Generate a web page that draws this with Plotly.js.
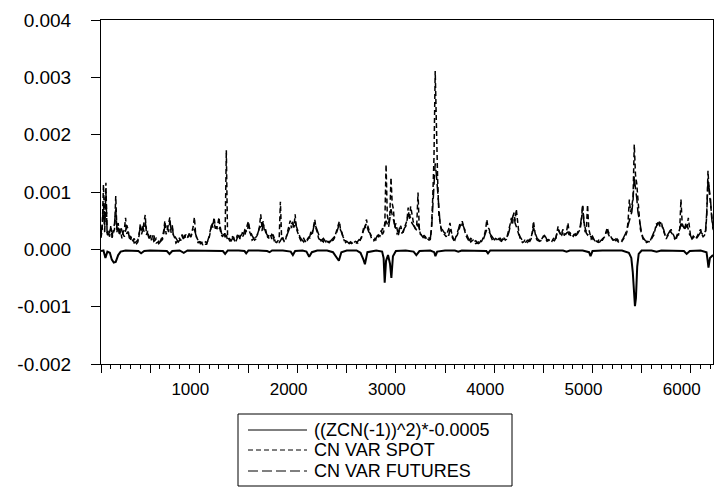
<!DOCTYPE html>
<html>
<head>
<meta charset="utf-8">
<script src="https://cdn.plot.ly/plotly-3.0.1.min.js"></script>
<style>html,body{margin:0;padding:0;background:#fff;}#chart{width:717px;height:487px;}</style>
</head>
<body>
<div id="chart"></div>
<script>
// Observation numbers for the two variance series (readings every 25 obs)
const obs = [
  0,25,50,75,100,125,150,175,200,225,
  250,275,300,325,350,375,400,425,450,475,
  500,525,550,575,600,625,650,675,700,725,
  750,775,800,825,850,875,900,925,950,975,
  1000,1025,1050,1075,1100,1125,1150,1175,1200,1225,
  1250,1275,1300,1325,1350,1375,1400,1425,1450,1475,
  1500,1525,1550,1575,1600,1625,1650,1675,1700,1725,
  1750,1775,1800,1825,1850,1875,1900,1925,1950,1975,
  2000,2025,2050,2075,2100,2125,2150,2175,2200,2225,
  2250,2275,2300,2325,2350,2375,2400,2425,2450,2475,
  2500,2525,2550,2575,2600,2625,2650,2675,2700,2725,
  2750,2775,2800,2825,2850,2875,2900,2925,2950,2975,
  3000,3025,3050,3075,3100,3125,3150,3175,3200,3225,
  3250,3275,3300,3325,3350,3375,3400,3425,3450,3475,
  3500,3525,3550,3575,3600,3625,3650,3675,3700,3725,
  3750,3775,3800,3825,3850,3875,3900,3925,3950,3975,
  4000,4025,4050,4075,4100,4125,4150,4175,4200,4225,
  4250,4275,4300,4325,4350,4375,4400,4425,4450,4475,
  4500,4525,4550,4575,4600,4625,4650,4675,4700,4725,
  4750,4775,4800,4825,4850,4875,4900,4925,4950,4975,
  5000,5025,5050,5075,5100,5125,5150,5175,5200,5225,
  5250,5275,5300,5325,5350,5375,5400,5425,5450,5475,
  5500,5525,5550,5575,5600,5625,5650,5675,5700,5725,
  5750,5775,5800,5825,5850,5875,5900,5925,5950,5975,
  6000,6025,6050,6075,6100,6125,6150,6175,6200,6225
];

// CN VAR SPOT at obs
const varSpot = [
  2.0e-4,11.3e-4,11.6e-4,3.2e-4,4.2e-4,2.8e-4,9.3e-4,4.6e-4,3.3e-4,3.0e-4,
  5.5e-4,3.1e-4,2.2e-4,1.6e-4,1.4e-4,1.3e-4,4.5e-4,3.4e-4,6.0e-4,3.2e-4,
  2.6e-4,1.9e-4,1.9e-4,1.2e-4,1.0e-4,2.1e-4,5.0e-4,3.3e-4,5.6e-4,3.8e-4,
  2.0e-4,1.3e-4,1.9e-4,2.6e-4,2.1e-4,2.0e-4,2.9e-4,3.1e-4,5.6e-4,2.0e-4,
  1.2e-4,1.0e-4,0.9e-4,1.1e-4,2.0e-4,4.6e-4,5.6e-4,3.6e-4,5.6e-4,2.5e-4,
  3.0e-4,17.3e-4,1.7e-4,1.8e-4,2.1e-4,1.5e-4,2.6e-4,2.2e-4,2.8e-4,3.6e-4,
  4.9e-4,2.5e-4,1.8e-4,2.1e-4,3.0e-4,6.1e-4,4.9e-4,3.5e-4,2.0e-4,2.5e-4,
  2.6e-4,1.3e-4,1.5e-4,8.3e-4,2.0e-4,1.5e-4,3.5e-4,5.0e-4,4.5e-4,6.1e-4,
  3.0e-4,1.8e-4,1.7e-4,1.5e-4,1.8e-4,2.0e-4,3.0e-4,5.2e-4,3.0e-4,1.7e-4,
  1.5e-4,1.8e-4,1.5e-4,1.4e-4,1.5e-4,2.0e-4,3.5e-4,4.9e-4,2.6e-4,1.5e-4,
  1.2e-4,1.1e-4,1.0e-4,1.2e-4,1.3e-4,1.5e-4,2.0e-4,4.0e-4,5.2e-4,3.5e-4,
  2.0e-4,1.5e-4,1.7e-4,2.5e-4,3.0e-4,3.5e-4,14.8e-4,4.6e-4,12.5e-4,7.0e-4,
  4.5e-4,2.5e-4,4.1e-4,3.0e-4,4.5e-4,7.3e-4,7.5e-4,5.0e-4,3.5e-4,9.9e-4,
  2.5e-4,2.3e-4,2.0e-4,1.8e-4,1.7e-4,9.0e-4,31.1e-4,12.0e-4,4.0e-4,3.0e-4,
  2.5e-4,3.0e-4,4.6e-4,2.0e-4,1.8e-4,2.5e-4,4.0e-4,4.9e-4,3.5e-4,2.0e-4,
  1.8e-4,1.5e-4,1.2e-4,1.1e-4,1.3e-4,1.5e-4,2.5e-4,5.2e-4,3.5e-4,2.0e-4,
  1.5e-4,1.8e-4,1.7e-4,1.6e-4,2.0e-4,1.8e-4,3.5e-4,5.5e-4,6.4e-4,7.0e-4,
  3.0e-4,1.5e-4,1.3e-4,1.5e-4,1.4e-4,2.0e-4,4.9e-4,2.0e-4,1.5e-4,1.7e-4,
  2.3e-4,1.8e-4,1.5e-4,1.6e-4,1.8e-4,1.7e-4,4.0e-4,2.5e-4,3.5e-4,2.8e-4,
  4.6e-4,2.5e-4,2.3e-4,2.5e-4,2.8e-4,3.5e-4,7.8e-4,3.0e-4,7.8e-4,2.3e-4,
  2.0e-4,1.6e-4,1.3e-4,1.5e-4,1.8e-4,2.2e-4,3.8e-4,2.5e-4,1.8e-4,1.5e-4,
  1.6e-4,1.5e-4,1.4e-4,2.0e-4,3.0e-4,8.7e-4,7.5e-4,18.3e-4,11.5e-4,6.0e-4,
  2.5e-4,1.5e-4,1.2e-4,1.3e-4,1.8e-4,2.5e-4,4.5e-4,5.0e-4,4.9e-4,3.0e-4,
  1.8e-4,2.5e-4,3.5e-4,2.5e-4,1.7e-4,2.8e-4,8.7e-4,4.0e-4,4.6e-4,5.5e-4,
  2.0e-4,2.3e-4,1.8e-4,2.6e-4,3.5e-4,2.2e-4,2.8e-4,13.7e-4,8.0e-4,4.0e-4
];
// CN VAR SPOT halfway between consecutive obs
const varSpotMid = [
  3.5e-4,4.0e-4,2.4e-4,2.2e-4,2.0e-4,3.5e-4,3.0e-4,2.4e-4,1.9e-4,3.4e-4,
  2.7e-4,2.4e-4,1.3e-4,1.9e-4,1.0e-4,2.4e-4,2.6e-4,4.4e-4,2.5e-4,2.1e-4,
  1.7e-4,2.4e-4,1.1e-4,1.4e-4,1.5e-4,3.2e-4,2.6e-4,4.4e-4,2.9e-4,2.5e-4,
  1.1e-4,2.0e-4,1.5e-4,1.8e-4,2.6e-4,2.2e-4,2.2e-4,3.9e-4,2.8e-4,1.5e-4,
  1.3e-4,0.8e-4,1.3e-4,1.6e-4,3.0e-4,3.8e-4,4.0e-4,4.3e-4,3.4e-4,2.2e-4,
  2.4e-4,2.2e-4,1.4e-4,2.2e-4,1.3e-4,2.0e-4,1.8e-4,2.9e-4,2.4e-4,4.2e-4,
  3.0e-4,1.6e-4,2.4e-4,2.4e-4,4.0e-4,3.8e-4,3.1e-4,2.4e-4,2.7e-4,1.8e-4,
  1.7e-4,1.2e-4,1.8e-4,1.9e-4,1.4e-4,2.3e-4,3.9e-4,3.7e-4,3.8e-4,3.6e-4,
  2.1e-4,1.4e-4,1.9e-4,1.2e-4,2.1e-4,2.5e-4,4.0e-4,3.6e-4,2.0e-4,1.3e-4,
  1.3e-4,1.6e-4,1.2e-4,1.7e-4,1.6e-4,2.8e-4,4.3e-4,3.4e-4,1.8e-4,1.5e-4,
  0.9e-4,1.3e-4,0.9e-4,1.4e-4,1.1e-4,1.8e-4,3.0e-4,3.7e-4,4.2e-4,2.4e-4,
  1.6e-4,1.9e-4,2.1e-4,2.3e-4,3.6e-4,4.5e-4,6.0e-4,5.5e-4,8.0e-4,3.8e-4,
  3.2e-4,3.4e-4,2.9e-4,3.8e-4,5.0e-4,5.2e-4,5.8e-4,4.0e-4,4.3e-4,3.8e-4,
  2.8e-4,2.0e-4,2.2e-4,1.6e-4,4.0e-4,16.0e-4,18.0e-4,6.0e-4,3.2e-4,2.7e-4,
  2.2e-4,3.6e-4,2.8e-4,1.6e-4,2.2e-4,3.2e-4,4.5e-4,3.9e-4,2.4e-4,1.6e-4,
  1.3e-4,1.6e-4,1.0e-4,1.3e-4,1.1e-4,2.0e-4,3.4e-4,3.8e-4,2.4e-4,1.4e-4,
  1.9e-4,1.4e-4,1.9e-4,1.5e-4,1.6e-4,2.6e-4,4.4e-4,4.5e-4,5.0e-4,4.2e-4,
  2.0e-4,1.2e-4,1.6e-4,1.2e-4,1.7e-4,3.0e-4,3.2e-4,1.6e-4,1.8e-4,1.9e-4,
  2.0e-4,1.4e-4,1.8e-4,1.4e-4,2.0e-4,2.6e-4,3.1e-4,2.9e-4,2.4e-4,3.2e-4,
  3.0e-4,2.1e-4,2.6e-4,2.2e-4,3.2e-4,5.0e-4,5.0e-4,3.5e-4,3.5e-4,1.8e-4,
  1.5e-4,1.4e-4,1.6e-4,1.4e-4,2.0e-4,3.0e-4,3.0e-4,2.0e-4,1.5e-4,1.8e-4,
  1.3e-4,1.6e-4,1.7e-4,2.4e-4,5.0e-4,6.5e-4,9.0e-4,13.0e-4,8.0e-4,3.5e-4,
  1.9e-4,1.3e-4,1.4e-4,1.6e-4,2.2e-4,3.5e-4,4.2e-4,4.4e-4,3.8e-4,2.3e-4,
  2.3e-4,2.9e-4,2.8e-4,1.9e-4,2.4e-4,3.6e-4,4.5e-4,3.4e-4,3.9e-4,3.0e-4,
  1.9e-4,2.0e-4,2.2e-4,3.0e-4,2.6e-4,2.4e-4,6.0e-4,10.0e-4,5.0e-4,3.0e-4
];

// CN VAR FUTURES at obs
const varFutures = [
  2.6e-4,8.0e-4,10.0e-4,2.5e-4,3.6e-4,3.4e-4,7.0e-4,3.8e-4,4.0e-4,2.6e-4,
  3.6e-4,3.5e-4,1.8e-4,1.9e-4,1.2e-4,1.6e-4,3.8e-4,4.0e-4,4.6e-4,2.7e-4,
  2.2e-4,2.3e-4,1.6e-4,1.5e-4,1.2e-4,1.7e-4,4.2e-4,3.8e-4,4.8e-4,4.2e-4,
  2.3e-4,1.6e-4,1.6e-4,2.3e-4,2.5e-4,1.8e-4,2.6e-4,2.7e-4,3.5e-4,2.4e-4,
  1.4e-4,1.2e-4,1.1e-4,0.9e-4,2.3e-4,4.0e-4,4.8e-4,4.0e-4,3.5e-4,2.9e-4,
  2.6e-4,2.5e-4,2.0e-4,1.5e-4,1.8e-4,1.8e-4,2.3e-4,2.6e-4,2.5e-4,3.2e-4,
  4.4e-4,2.9e-4,2.1e-4,1.8e-4,3.3e-4,4.0e-4,4.5e-4,3.0e-4,2.3e-4,2.2e-4,
  2.3e-4,1.6e-4,1.3e-4,1.5e-4,1.8e-4,1.7e-4,3.0e-4,4.0e-4,4.8e-4,4.9e-4,
  3.4e-4,2.1e-4,1.5e-4,1.7e-4,1.6e-4,2.3e-4,2.7e-4,4.6e-4,3.3e-4,2.0e-4,
  1.7e-4,1.6e-4,1.7e-4,1.2e-4,1.7e-4,2.2e-4,3.1e-4,4.4e-4,3.0e-4,1.8e-4,
  1.4e-4,1.0e-4,1.2e-4,1.0e-4,1.1e-4,1.7e-4,2.4e-4,3.5e-4,4.5e-4,3.0e-4,
  2.3e-4,1.7e-4,2.0e-4,2.2e-4,3.3e-4,3.0e-4,5.0e-4,3.8e-4,7.0e-4,5.0e-4,
  3.5e-4,2.9e-4,3.5e-4,3.4e-4,4.0e-4,6.0e-4,5.5e-4,4.3e-4,3.8e-4,4.5e-4,
  2.8e-4,2.1e-4,2.2e-4,1.6e-4,1.9e-4,7.0e-4,15.0e-4,10.0e-4,4.4e-4,3.4e-4,
  2.8e-4,2.6e-4,3.5e-4,2.3e-4,1.6e-4,2.8e-4,4.4e-4,4.5e-4,3.2e-4,2.3e-4,
  1.6e-4,1.7e-4,1.4e-4,1.2e-4,1.1e-4,1.8e-4,2.2e-4,3.5e-4,3.0e-4,2.3e-4,
  1.7e-4,1.5e-4,1.9e-4,1.4e-4,1.7e-4,2.1e-4,3.0e-4,5.0e-4,6.2e-4,4.0e-4,
  2.6e-4,1.8e-4,1.4e-4,1.3e-4,1.6e-4,1.8e-4,3.8e-4,2.3e-4,1.7e-4,1.5e-4,
  2.0e-4,2.1e-4,1.7e-4,1.4e-4,1.6e-4,1.9e-4,3.5e-4,2.8e-4,3.0e-4,2.5e-4,
  3.0e-4,2.8e-4,2.1e-4,2.7e-4,3.1e-4,4.0e-4,7.5e-4,3.4e-4,2.5e-4,2.6e-4,
  2.3e-4,1.4e-4,1.5e-4,1.3e-4,1.6e-4,2.5e-4,3.3e-4,2.2e-4,2.0e-4,1.7e-4,
  1.8e-4,1.3e-4,1.6e-4,2.3e-4,3.5e-4,5.0e-4,6.5e-4,12.8e-4,9.0e-4,5.0e-4,
  2.9e-4,1.7e-4,1.4e-4,1.1e-4,2.0e-4,2.8e-4,4.0e-4,4.6e-4,4.4e-4,3.4e-4,
  2.1e-4,2.8e-4,3.0e-4,2.2e-4,2.0e-4,2.5e-4,4.5e-4,4.4e-4,3.8e-4,3.5e-4,
  2.3e-4,2.0e-4,2.1e-4,2.3e-4,3.0e-4,2.5e-4,3.2e-4,12.0e-4,9.0e-4,3.6e-4
];
// CN VAR FUTURES halfway between consecutive obs
const varFuturesMid = [
  4.4e-4,3.0e-4,2.8e-4,3.2e-4,2.3e-4,4.5e-4,3.2e-4,2.9e-4,3.1e-4,2.2e-4,
  4.2e-4,2.0e-4,2.3e-4,1.1e-4,1.5e-4,2.8e-4,3.0e-4,3.1e-4,3.6e-4,1.9e-4,
  2.8e-4,1.4e-4,1.9e-4,1.0e-4,1.8e-4,2.6e-4,4.6e-4,3.0e-4,3.6e-4,2.1e-4,
  1.8e-4,1.3e-4,2.2e-4,1.8e-4,1.9e-4,2.4e-4,2.1e-4,3.2e-4,2.7e-4,1.1e-4,
  0.9e-4,1.4e-4,0.9e-4,1.5e-4,3.4e-4,4.5e-4,3.6e-4,3.2e-4,3.9e-4,2.2e-4,
  2.2e-4,1.6e-4,1.8e-4,1.9e-4,1.4e-4,2.5e-4,2.0e-4,2.1e-4,3.4e-4,3.0e-4,
  3.4e-4,2.4e-4,1.6e-4,2.6e-4,3.7e-4,3.2e-4,3.6e-4,2.6e-4,1.8e-4,2.6e-4,
  1.5e-4,1.6e-4,1.2e-4,1.9e-4,1.4e-4,2.4e-4,3.4e-4,4.3e-4,3.9e-4,4.0e-4,
  2.6e-4,1.8e-4,1.3e-4,1.9e-4,1.9e-4,3.2e-4,3.8e-4,3.9e-4,2.4e-4,1.5e-4,
  1.9e-4,1.3e-4,1.4e-4,1.5e-4,2.0e-4,2.4e-4,3.8e-4,3.3e-4,2.2e-4,1.2e-4,
  1.2e-4,1.1e-4,0.9e-4,1.2e-4,1.4e-4,1.6e-4,3.2e-4,4.1e-4,3.6e-4,2.8e-4,
  1.8e-4,1.6e-4,2.4e-4,2.8e-4,2.6e-4,4.2e-4,4.4e-4,5.2e-4,6.0e-4,4.0e-4,
  2.7e-4,3.8e-4,2.8e-4,3.7e-4,4.8e-4,5.8e-4,4.6e-4,4.1e-4,3.3e-4,3.5e-4,
  2.4e-4,2.4e-4,1.7e-4,2.0e-4,3.5e-4,11.0e-4,13.0e-4,6.5e-4,3.6e-4,3.0e-4,
  3.0e-4,2.4e-4,2.7e-4,1.8e-4,2.3e-4,3.6e-4,3.8e-4,4.0e-4,2.7e-4,1.9e-4,
  1.9e-4,1.3e-4,1.5e-4,1.0e-4,1.4e-4,1.6e-4,3.0e-4,3.2e-4,2.6e-4,1.8e-4,
  1.4e-4,1.8e-4,1.5e-4,1.8e-4,2.0e-4,2.4e-4,4.0e-4,5.6e-4,4.6e-4,3.0e-4,
  2.2e-4,1.5e-4,1.2e-4,1.6e-4,1.4e-4,2.6e-4,3.0e-4,1.9e-4,1.4e-4,1.8e-4,
  2.4e-4,1.6e-4,1.5e-4,1.7e-4,1.5e-4,2.7e-4,3.0e-4,2.5e-4,2.8e-4,2.9e-4,
  2.5e-4,2.4e-4,2.5e-4,2.5e-4,3.6e-4,5.5e-4,4.8e-4,2.8e-4,2.8e-4,2.0e-4,
  1.7e-4,1.7e-4,1.2e-4,1.6e-4,1.9e-4,2.8e-4,2.6e-4,2.3e-4,1.6e-4,1.5e-4,
  1.5e-4,1.5e-4,1.9e-4,2.8e-4,4.2e-4,5.8e-4,8.5e-4,10.5e-4,6.5e-4,3.8e-4,
  2.1e-4,1.5e-4,1.2e-4,1.5e-4,2.4e-4,3.2e-4,4.6e-4,4.0e-4,3.9e-4,2.5e-4,
  2.5e-4,3.2e-4,2.5e-4,1.8e-4,2.6e-4,3.4e-4,4.0e-4,3.6e-4,4.1e-4,2.6e-4,
  1.8e-4,2.4e-4,2.0e-4,2.7e-4,2.8e-4,2.9e-4,6.5e-4,10.5e-4,5.5e-4,3.2e-4
];

// ((ZCN(-1))^2)*-0.0005
const zcnObs = [
  0,25,45,65,90,110,130,150,175,200,250,300,380,408,440,500,600,670,697,725,
  800,842,880,1000,1100,1200,1240,1263,1290,1400,1460,1477,1500,1600,1690,1715,1740,1850,1930,1952,
  1975,2050,2090,2118,2145,2200,2300,2360,2400,2420,2445,2500,2600,2640,2670,2685,2710,2800,2860,2875,
  2886,2900,2920,2940,2954,2970,3000,3100,3180,3208,3240,3350,3390,3402,3420,3500,3600,3635,3670,3800,
  3920,3937,3960,4100,4300,4500,4700,4736,4770,4900,4965,4980,5000,5100,5300,5370,5395,5410,5422,5432,
  5442,5455,5470,5500,5600,5652,5700,5800,5930,5958,5990,6100,6160,6172,6180,6195,6210,6226
];
const zcnSq = [
  -0.3e-4,-0.2e-4,-1.5e-4,-0.4e-4,-0.6e-4,-1.8e-4,-2.3e-4,-2.2e-4,-1.0e-4,-0.4e-4,-0.2e-4,-0.2e-4,-0.3e-4,-0.7e-4,-0.3e-4,-0.2e-4,-0.2e-4,-0.3e-4,-0.8e-4,-0.3e-4,
  -0.2e-4,-0.6e-4,-0.2e-4,-0.2e-4,-0.2e-4,-0.2e-4,-0.3e-4,-0.8e-4,-0.2e-4,-0.2e-4,-0.3e-4,-0.7e-4,-0.2e-4,-0.2e-4,-0.3e-4,-0.5e-4,-0.2e-4,-0.2e-4,-0.4e-4,-1.0e-4,
  -0.3e-4,-0.2e-4,-0.4e-4,-1.3e-4,-0.5e-4,-0.2e-4,-0.2e-4,-0.5e-4,-1.5e-4,-2.0e-4,-0.5e-4,-0.2e-4,-0.2e-4,-0.6e-4,-1.8e-4,-2.6e-4,-0.5e-4,-0.2e-4,-0.4e-4,-1.5e-4,
  -5.8e-4,-2.0e-4,-1.0e-4,-2.5e-4,-5.0e-4,-1.2e-4,-0.3e-4,-0.2e-4,-0.4e-4,-1.0e-4,-0.3e-4,-0.2e-4,-0.5e-4,-1.2e-4,-0.4e-4,-0.2e-4,-0.2e-4,-0.4e-4,-0.2e-4,-0.2e-4,
  -0.3e-4,-0.7e-4,-0.2e-4,-0.2e-4,-0.2e-4,-0.2e-4,-0.2e-4,-0.4e-4,-0.2e-4,-0.2e-4,-0.5e-4,-1.2e-4,-0.3e-4,-0.2e-4,-0.2e-4,-0.6e-4,-1.5e-4,-4.0e-4,-8.0e-4,-9.9e-4,
  -8.5e-4,-3.0e-4,-0.8e-4,-0.2e-4,-0.2e-4,-0.4e-4,-0.2e-4,-0.2e-4,-0.3e-4,-0.8e-4,-0.3e-4,-0.2e-4,-0.5e-4,-2.0e-4,-3.2e-4,-1.5e-4,-1.3e-4,-1.0e-4
];

const seriesNames = ['((ZCN(-1))^2)*-0.0005', 'CN VAR SPOT', 'CN VAR FUTURES'];
const yTicks = [-0.002,-0.001,0,0.001,0.002,0.003,0.004];
const yTickText = ['-0.002','-0.001','0.000','0.001','0.002','0.003','0.004'];
const xTicks = [0,500,1000,1500,2000,2500,3000,3500,4000,4500,5000,5500,6000];
const xTickText = ['','','1000','','2000','','3000','','4000','','5000','','6000'];

// merge the on-obs readings with the half-way readings into one ordered series
function merge(onObs, mid) {
  const x = [], y = [];
  for (let i = 0; i < obs.length; i++) {
    x.push(obs[i]); y.push(onObs[i]);
    if (i < mid.length) { x.push(obs[i] + 12.5); y.push(mid[i]); }
  }
  return {x, y};
}
const spot = merge(varSpot, varSpotMid);
const fut = merge(varFutures, varFuturesMid);

const FONT = 'Arial, "Liberation Sans", sans-serif';
const dashes = ['solid', '5px,3px', '10px,4px'];

const traces = [
  {x: zcnObs, y: zcnSq, type: 'scatter', mode: 'lines', name: seriesNames[0],
   line: {color: '#000', width: 2, dash: dashes[0]}},
  {x: spot.x, y: spot.y, type: 'scatter', mode: 'lines', name: seriesNames[1],
   line: {color: '#000', width: 1.5, dash: dashes[1]}},
  {x: fut.x, y: fut.y, type: 'scatter', mode: 'lines', name: seriesNames[2],
   line: {color: '#000', width: 1.5, dash: dashes[2]}}
];

// Legend box drawn at the reference's pixel positions (converted to paper coordinates)
const L = 101, T = 20, W = 612, H = 344;
const px = v => (v - L) / W;
const py = v => (T + H - v) / H;
const legRowY = [430, 450, 471];
const shapes = [
  {type: 'rect', xref: 'paper', yref: 'paper', x0: px(238), x1: px(512), y0: py(414), y1: py(486),
   line: {color: '#000', width: 1}, fillcolor: '#fff'}
];
const annotations = [];
legRowY.forEach((ry, i) => {
  shapes.push({type: 'line', xref: 'paper', yref: 'paper', x0: px(248), x1: px(307), y0: py(ry), y1: py(ry),
    line: {color: '#000', width: 1, dash: dashes[i]}});
  annotations.push({xref: 'paper', yref: 'paper', x: px(312), y: py(ry), xanchor: 'left', yanchor: 'middle',
    text: seriesNames[i], showarrow: false, font: {family: FONT, size: 18, color: '#000'}});
});

const layout = {
  width: 717, height: 487,
  paper_bgcolor: '#fff', plot_bgcolor: '#fff',
  margin: {l: L, r: 717 - L - W, t: T, b: 487 - T - H, pad: 0},
  font: {family: FONT, color: '#000', size: 18},
  showlegend: false,
  xaxis: {
    range: [0, 6226], showgrid: false, zeroline: false,
    showline: true, mirror: true, linecolor: '#000', linewidth: 1,
    ticks: 'outside', tickmode: 'array', tickvals: xTicks, ticktext: xTickText,
    ticklen: 8, tickcolor: '#000', tickwidth: 1,
    tickfont: {family: FONT, size: 17, color: '#000'}, ticklabelshift: -9, ticklabelstandoff: 2,
    minor: {ticks: 'outside', tickmode: 'linear', tick0: 0, dtick: 100, ticklen: 4, tickcolor: '#000', tickwidth: 1, showgrid: false}
  },
  yaxis: {
    range: [-0.002, 0.004], showgrid: false, zeroline: false,
    showline: true, mirror: true, linecolor: '#000', linewidth: 1,
    ticks: 'outside', ticklen: 9, tickcolor: '#000', tickwidth: 1,
    tickmode: 'array', tickvals: yTicks, ticktext: yTickText,
    tickfont: {family: FONT, size: 19, color: '#000'}, ticklabelstandoff: 16
  },
  shapes: shapes,
  annotations: annotations
};

Plotly.newPlot('chart', traces, layout, {staticPlot: true, displayModeBar: false});
</script>
</body>
</html>
